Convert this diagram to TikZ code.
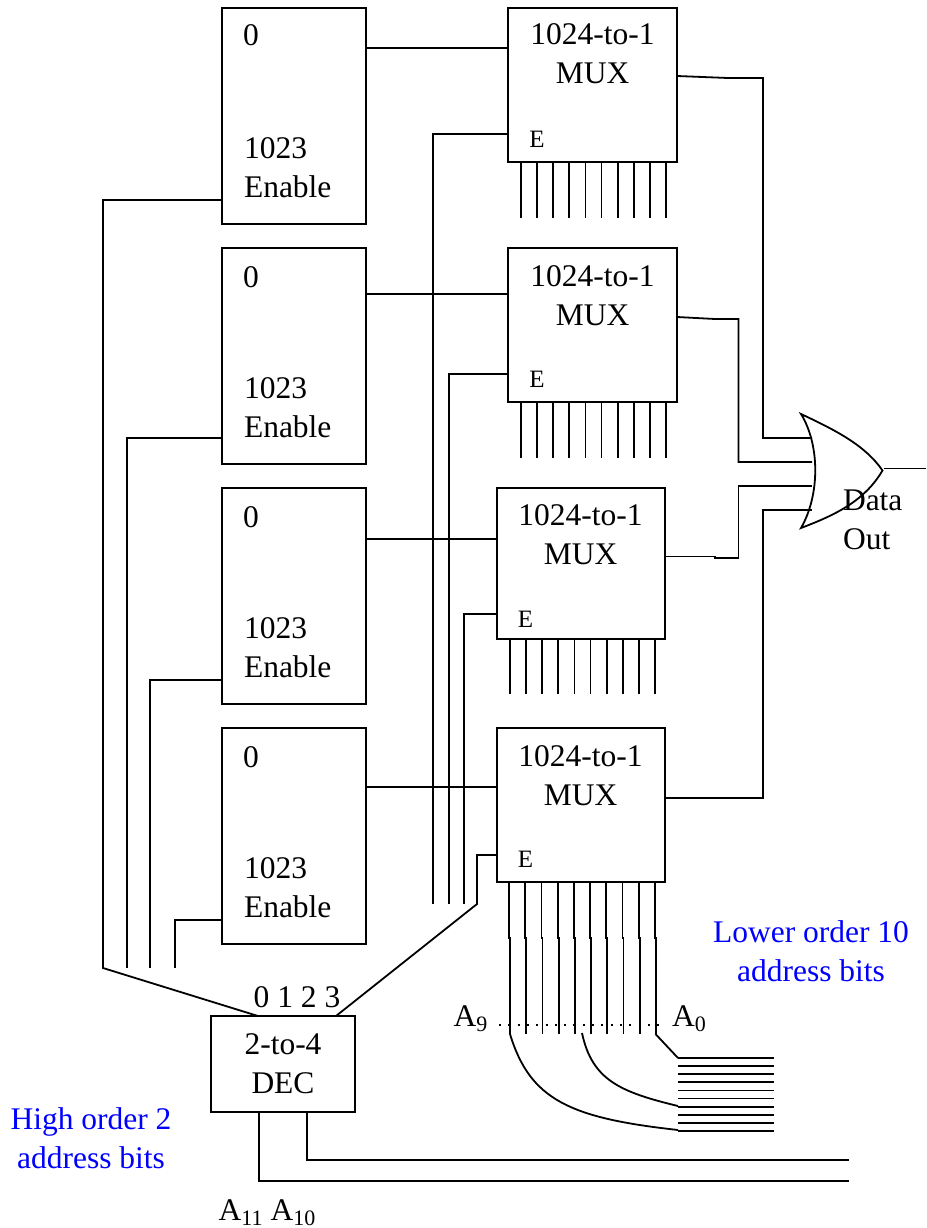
\documentclass[tikz,border=0pt]{standalone}
\usepackage{fontspec}
\setmainfont{Liberation Serif}
\usetikzlibrary{calc}
\newcommand{\lowbit}[1]{\raisebox{-0.18em}{\fontsize{22}{22}\selectfont #1}}
\tikzset{
  wire/.style={line width=1.8pt,line cap=butt,line join=miter},
  box/.style={draw,line width=2pt,inner sep=0pt,outer sep=0pt,fill=none},
  lbl/.style={inner sep=0pt,outer sep=0pt,font=\fontsize{31.5}{39}\selectfont,align=center},
  lblL/.style={lbl,align=left,anchor=west},
  addr/.style={inner sep=0pt,outer sep=0pt,font=\fontsize{31.5}{39}\selectfont,anchor=base},
  small/.style={inner sep=0pt,outer sep=0pt,font=\fontsize{25}{26}\selectfont},
  bluelbl/.style={lbl,text={rgb,255:red,0;green,0;blue,255}},
  mem/.style={box,minimum width=144pt,minimum height=216pt},
}
\begin{document}
\begin{tikzpicture}[x=1pt,y=-1pt]
\path[use as bounding box] (0,0) rectangle (926,1228);
% memory boxes
\node[mem] (b1) at (294,116) {};
\node[mem] (b2) at (294,356) {};
\node[mem] (b3) at (294,596) {};
\node[mem] (b4) at (294,836) {};
\foreach \n/\y in {1/35,2/277,3/517,4/757}{
  \node[lbl] (z\n) at (251,\y) {0};
}
\foreach \n/\y in {1/168,2/408,3/648,4/888}{
  \node[lblL] (e\n) at (244,\y) {1023\\Enable};
}
% mux boxes
\node[box,minimum width=169pt,minimum height=154pt] (m1) at (592.5,85) {};
\node[box,minimum width=169pt,minimum height=154pt] (m2) at (592.5,325) {};
\node[box,minimum width=168pt,minimum height=151pt] (m3) at (581,563.5) {};
\node[box,minimum width=168pt,minimum height=154pt] (m4) at (581,805) {};
\node[lbl] (t1) at (592.5,54) {1024-to-1\\MUX};
\node[lbl] (t2) at (592.5,296) {1024-to-1\\MUX};
\node[lbl] (t3) at (580.5,535) {1024-to-1\\MUX};
\node[lbl] (t4) at (580.5,776) {1024-to-1\\MUX};
\node[small] (l1) at (537,139) {E};
\node[small] (l2) at (537,379) {E};
\node[small] (l3) at (525.5,619) {E};
\node[small] (l4) at (525.5,859) {E};
% data wires box to mux
\draw[wire] (b1.east |- 0,48) -- (m1.west |- 0,48);
\draw[wire] (b2.east |- 0,294) -- (m2.west |- 0,294);
\draw[wire] (b3.east |- 0,539) -- (m3.west |- 0,539);
\draw[wire] (b4.east |- 0,787) -- (m4.west |- 0,787);
% decoder
\node[box,minimum width=144pt,minimum height=96pt] (dec) at (283,1064) {};
\node[lbl] (dect) at (283,1064) {2-to-4\\DEC};
\node[lbl] (outs) at (297,997) {0 1 2 3};
% enable wires
\coordinate (en0) at (258,1016);
\coordinate (en3) at (336,1016);
\coordinate (s1) at (127,968);
\coordinate (s2) at (150,968);
\coordinate (s3) at (175,968);
\draw[wire] (b1.west |- 0,200) -| (103,968) -- (en0);
\draw[wire] (b2.west |- 0,438) -| (s1);
\draw[wire] (b3.west |- 0,680) -| (s2);
\draw[wire] (b4.west |- 0,920) -| (s3);
\coordinate (g1) at (433,904);
\coordinate (g2) at (449,904);
\coordinate (g3) at (464,904);
\draw[wire] (m1.west |- 0,134) -| (g1);
\draw[wire] (m2.west |- 0,374) -| (g2);
\draw[wire] (m3.west |- 0,614) -| (g3);
\draw[wire] (m4.west |- 0,855) -| (477,904) -- (en3);
% mux address pins
\foreach \k in {0,...,9}{
  \draw[wire] ({521+16.1*\k},162) -- ({521+16.1*\k},218);
  \draw[wire] ({521+16.1*\k},402) -- ({521+16.1*\k},458);
  \draw[wire] ({510+16.1*\k},639) -- ({510+16.1*\k},694);
  \draw[wire] ({509+16.2*\k},882) -- ({509+16.2*\k},938) -- ({510+16.2*\k},938) -- ({510+16.2*\k},1034);
}
% OR gate
\coordinate (ortop) at (801,414);
\coordinate (orbot) at (801,528);
\coordinate (ortip) at (882.5,470.5);
\draw[wire,line join=miter] (ortop) .. controls (820,445) and (820,495) .. (orbot)
   .. controls (838,514) and (865,500) .. (ortip)
   .. controls (865,445) and (835,430) .. (ortop) -- cycle;
\coordinate (or1) at (812,438);
\coordinate (or2) at (812,462);
\coordinate (or3) at (812,486);
\coordinate (or4) at (812,510);
\draw[wire] (m1.east |- 0,76) -- (728,78) -- (763,78) |- (or1);
\draw[wire] (m2.east |- 0,317) -- (715,319) -- (738.5,319) |- (or2);
\draw[wire] (m3.east |- 0,556.5) -- (715,556.5) -- (715,558) -- (738.5,558) |- (or3);
\draw[wire] (m4.east |- 0,798) -- (763,798) |- (or4);
\coordinate (orout) at (926,468.5);
\draw[wire] (884,468.5) -- (orout);
\node[lblL] (dout) at (843,520) {Data\\Out};
% address dots
\coordinate (d1) at (499,1025);
\coordinate (d2) at (662,1025);
\draw[line width=2pt,dash pattern=on 2pt off 7.3pt] (d1) -- (d2);
\node[addr] (a9) at (470.5,1026) {A\lowbit{9}};
\node[addr] (a0) at (689,1026) {A\lowbit{0}};
% low address bus
\foreach \k in {0,...,9}{
  \draw[wire] (678,{1058+8.1*\k}) -- (774,{1058+8.1*\k});
}
\coordinate (c1) at (510,1034);
\coordinate (c2) at (582,1033);
\coordinate (c3) at (655.5,1034);
\coordinate (bus1) at (678,1130);
\coordinate (bus2) at (678,1106);
\coordinate (bus3) at (678,1058);
\draw[wire] (c1) .. controls (530,1100) and (570,1118) .. (bus1);
\draw[wire] (c2) .. controls (592,1080) and (620,1092) .. (bus2);
\draw[wire] (c3) -- (bus3);
% decoder inputs
\coordinate (h1) at (849,1160);
\coordinate (h2) at (849,1181);
\draw[wire] (dec.south -| 307,0) |- (h1);
\draw[wire] (dec.south -| 259,0) |- (h2);
\node[addr] (a11) at (267,1220) {A\lowbit{11} A\lowbit{10}};
% blue labels
\node[bluelbl] (lo) at (811,951) {Lower order 10\\address bits};
\node[bluelbl] (hi) at (91,1138) {High order 2\\address bits};
\end{tikzpicture}
\end{document}
